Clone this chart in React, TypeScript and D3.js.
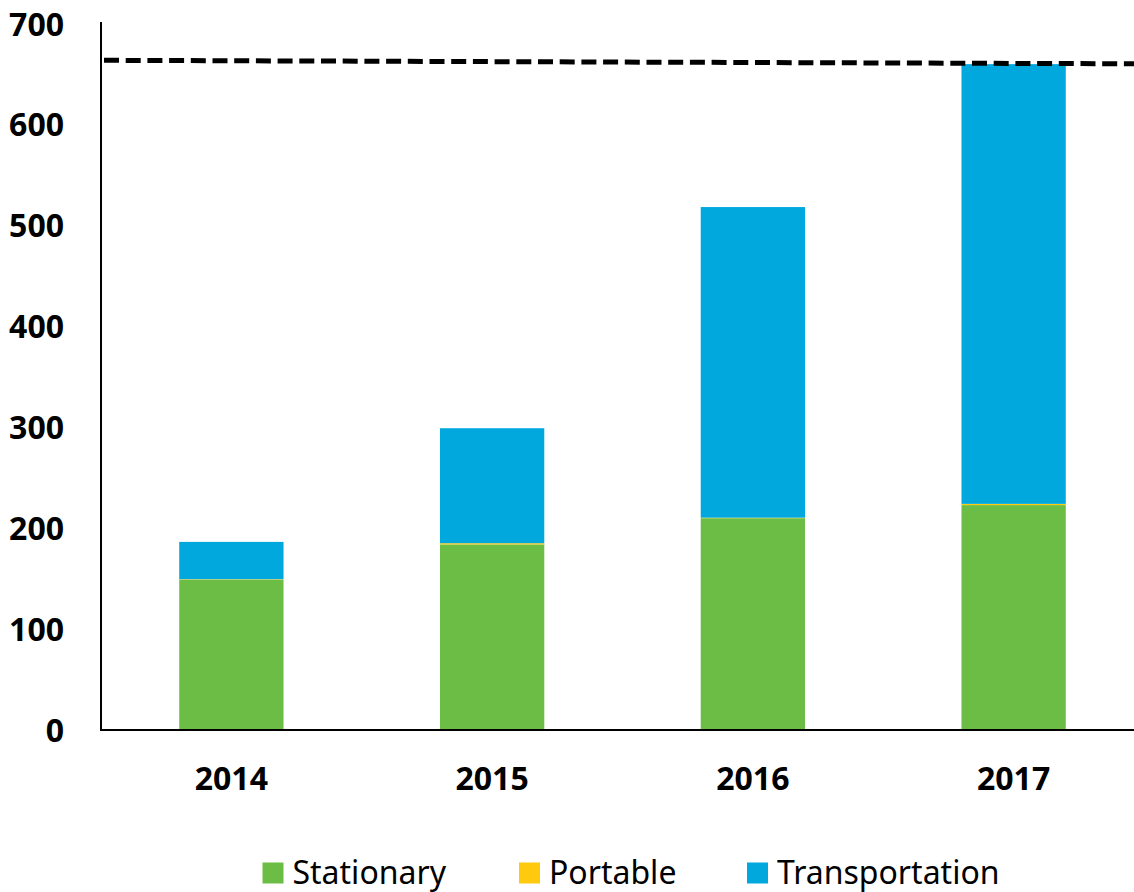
import React, { useEffect, useRef } from 'react';
import * as d3 from 'd3';

const years = ['2014', '2015', '2016', '2017'];
const stationary = [149, 184, 210, 223];
const portable = [0.5, 1.2, 0.5, 1.2];
const transportation = [37, 114, 308, 436];
const seriesNames = ['Stationary', 'Portable', 'Transportation'];
const seriesColors = ['#6cbd45', '#ffc90e', '#00a8de'];
const yTicks = [0, 100, 200, 300, 400, 500, 600, 700];
// dashed reference line, start and end value
const refLine = [664, 660.5];

const FONT = '"Noto Sans", "DejaVu Sans", sans-serif';

const App: React.FC = () => {
  const svgRef = useRef<SVGSVGElement>(null);
  const width = 1134;
  const height = 892;

  useEffect(() => {
    document.body.style.margin = '0';
    if (!svgRef.current) return;

    const svg = d3.select(svgRef.current);
    svg.selectAll('*').remove();

    const x0 = 101;
    const x1 = 1144;
    const xScale = d3.scaleBand<string>()
      .domain(years)
      .range([x0, x1])
      .paddingInner(0.6)
      .paddingOuter(0.3);

    const yScale = d3.scaleLinear()
      .domain([0, 700])
      .range([730, 24]);

    const rows = years.map((year, i) => ({
      year,
      Stationary: stationary[i],
      Portable: portable[i],
      Transportation: transportation[i],
    }));

    const stack = d3.stack<any>().keys(seriesNames);
    const layers = stack(rows);

    // Bars
    layers.forEach((layer, li) => {
      svg.append('g')
        .selectAll('rect')
        .data(layer)
        .enter()
        .append('rect')
        .attr('x', d => xScale(d.data.year) as number)
        .attr('width', xScale.bandwidth())
        .attr('y', d => yScale(d[1]))
        .attr('height', d => yScale(d[0]) - yScale(d[1]))
        .attr('fill', seriesColors[li]);
    });

    // Y axis line
    svg.append('line')
      .attr('x1', x0)
      .attr('x2', x0)
      .attr('y1', yScale(700) - 2)
      .attr('y2', yScale(0))
      .attr('stroke', '#000')
      .attr('stroke-width', 2);

    // X axis line
    svg.append('line')
      .attr('x1', x0 - 1)
      .attr('x2', x1)
      .attr('y1', yScale(0))
      .attr('y2', yScale(0))
      .attr('stroke', '#000')
      .attr('stroke-width', 2);

    // Y tick labels
    svg.append('g')
      .selectAll('text')
      .data(yTicks)
      .enter()
      .append('text')
      .attr('x', 64)
      .attr('y', d => yScale(d))
      .attr('dy', '0.36em')
      .attr('text-anchor', 'end')
      .style('font-family', FONT)
      .style('font-size', '32px')
      .style('font-weight', 'bold')
      .style('fill', '#000')
      .text(d => d);

    // X tick labels
    svg.append('g')
      .selectAll('text')
      .data(years)
      .enter()
      .append('text')
      .attr('x', d => (xScale(d) as number) + xScale.bandwidth() / 2)
      .attr('y', 790)
      .attr('text-anchor', 'middle')
      .style('font-family', FONT)
      .style('font-size', '32px')
      .style('font-weight', 'bold')
      .style('fill', '#000')
      .text(d => d);

    // Dashed reference line
    svg.append('line')
      .attr('x1', x0 + 3)
      .attr('x2', x1)
      .attr('y1', yScale(refLine[0]))
      .attr('y2', yScale(refLine[1]))
      .attr('stroke', '#000')
      .attr('stroke-width', 5)
      .attr('stroke-dasharray', '15 6.7');

    // Legend
    const legendX = [262.5, 519, 747];
    const legend = svg.append('g');
    seriesNames.forEach((name, i) => {
      legend.append('rect')
        .attr('x', legendX[i])
        .attr('y', 862.5)
        .attr('width', 21)
        .attr('height', 21)
        .attr('fill', seriesColors[i]);
      legend.append('text')
        .attr('x', legendX[i] + 30)
        .attr('y', 884)
        .style('font-family', FONT)
        .style('font-size', '32px')
        .style('fill', '#000')
        .text(name);
    });
  }, []);

  return (
    <svg ref={svgRef} width={width} height={height} style={{ display: 'block', background: '#fff' }}></svg>
  );
};

export default App;
